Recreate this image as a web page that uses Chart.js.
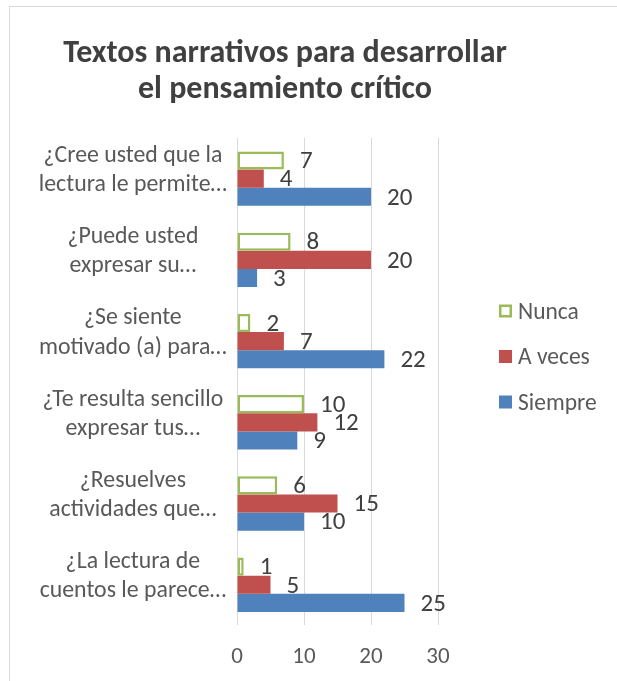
<!DOCTYPE html>
<html>
<head>
<meta charset="utf-8">
<script src="https://cdn.jsdelivr.net/npm/chart.js@4.4.0/dist/chart.umd.min.js"></script>
<style>
  body { margin: 0; background: #fff; overflow: hidden; }
  .frame { position: absolute; left: 9px; top: 6px; width: 660px; height: 720px; border: 1px solid #d9d9d9; }
  .box { position: absolute; left: 0; top: 0; width: 607px; height: 690px; }
</style>
</head>
<body>
<div class="frame"><div class="box"><canvas id="chart"></canvas></div></div>
<script>
const categories = [
  ["¿Cree usted que la", "lectura le permite…"],
  ["¿Puede usted", "expresar su…"],
  ["¿Se siente", "motivado (a) para…"],
  ["¿Te resulta sencillo", "expresar tus…"],
  ["¿Resuelves", "actividades que…"],
  ["¿La lectura de", "cuentos le parece…"]
];
const seriesNames = ["Nunca", "A veces", "Siempre"];
const nunca = [7, 8, 2, 10, 6, 1];
const aVeces = [4, 20, 7, 12, 15, 5];
const siempre = [20, 3, 22, 9, 10, 25];
const xTicks = [0, 10, 20, 30];

const FONT = "Carlito, Calibri, Lato, sans-serif";
const textGray = "#595959";
const darkGray = "#404040";

// numbers to the right of every bar
const valueLabels = {
  id: "valueLabels",
  afterDatasetsDraw(chart) {
    const ctx = chart.ctx;
    ctx.save();
    ctx.font = "25px " + FONT;
    ctx.fillStyle = darkGray;
    ctx.textAlign = "left";
    ctx.textBaseline = "middle";
    chart.data.datasets.forEach((ds, i) => {
      chart.getDatasetMeta(i).data.forEach((bar, j) => {
        ctx.fillText(ds.data[j], bar.x + 16, bar.y + 1.5);
      });
    });
    ctx.restore();
  }
};

// legend in the right-hand gap
const sideLegend = {
  id: "sideLegend",
  afterDraw(chart) {
    const ctx = chart.ctx;
    const x = chart.chartArea.right + 61;
    ctx.save();
    ctx.font = "23.5px " + FONT;
    ctx.textAlign = "left";
    ctx.textBaseline = "middle";
    chart.data.datasets.forEach((ds, i) => {
      const y = 304 + i * 45.5;
      if (ds.backgroundColor === "#ffffff") {
        ctx.strokeStyle = ds.borderColor;
        ctx.lineWidth = 2.5;
        ctx.strokeRect(x + 1.25, y - 5.25, 10.5, 10.5);
      } else {
        ctx.fillStyle = ds.backgroundColor;
        ctx.fillRect(x, y - 6.5, 13, 13);
      }
      ctx.fillStyle = textGray;
      ctx.fillText(ds.label, x + 19, y + 1.7);
    });
    ctx.restore();
  }
};

// keep the title centred over the plot + labels, not the whole canvas
const titleCenter = {
  id: "titleCenter",
  afterLayout(chart) {
    const t = chart.titleBlock;
    t.left = 25;
    t.right = 525;
  }
};

new Chart(document.getElementById("chart"), {
  type: "bar",
  data: {
    labels: categories,
    datasets: [
      { label: seriesNames[0], data: nunca, backgroundColor: "#ffffff", borderColor: "#9bbb59", borderWidth: 2.5, borderSkipped: false },
      { label: seriesNames[1], data: aVeces, backgroundColor: "#c0504d" },
      { label: seriesNames[2], data: siempre, backgroundColor: "#4f81bd" }
    ]
  },
  options: {
    indexAxis: "y",
    responsive: true,
    maintainAspectRatio: false,
    animation: false,
    categoryPercentage: 0.67,
    barPercentage: 1,
    layout: { padding: { left: 5, right: 179, top: 0, bottom: 7 } },
    scales: {
      x: {
        min: 0,
        max: 30,
        afterBuildTicks: (scale) => { scale.ticks = xTicks.map((v) => ({ value: v })); },
        grid: { color: "#d9d9d9", drawTicks: false },
        border: { display: false },
        ticks: { color: textGray, padding: 18.5, font: { family: FONT, size: 23 } }
      },
      y: {
        grid: { display: false, drawTicks: false },
        border: { display: false },
        afterFit: (scale) => { scale.width = 222; },
        ticks: {
          crossAlign: "center",
          padding: 10,
          labelOffset: -8,
          color: textGray,
          font: { family: FONT, size: 23.8, lineHeight: 1.23 }
        }
      }
    },
    plugins: {
      legend: { display: false },
      tooltip: { enabled: false },
      title: {
        display: true,
        text: ["Textos narrativos para desarrollar", "el pensamiento crítico"],
        color: darkGray,
        font: { family: FONT, size: 32, weight: "bold", lineHeight: 1.144 },
        padding: { top: 28.4, bottom: 29.4 }
      }
    }
  },
  plugins: [valueLabels, sideLegend, titleCenter]
});
</script>
</body>
</html>
